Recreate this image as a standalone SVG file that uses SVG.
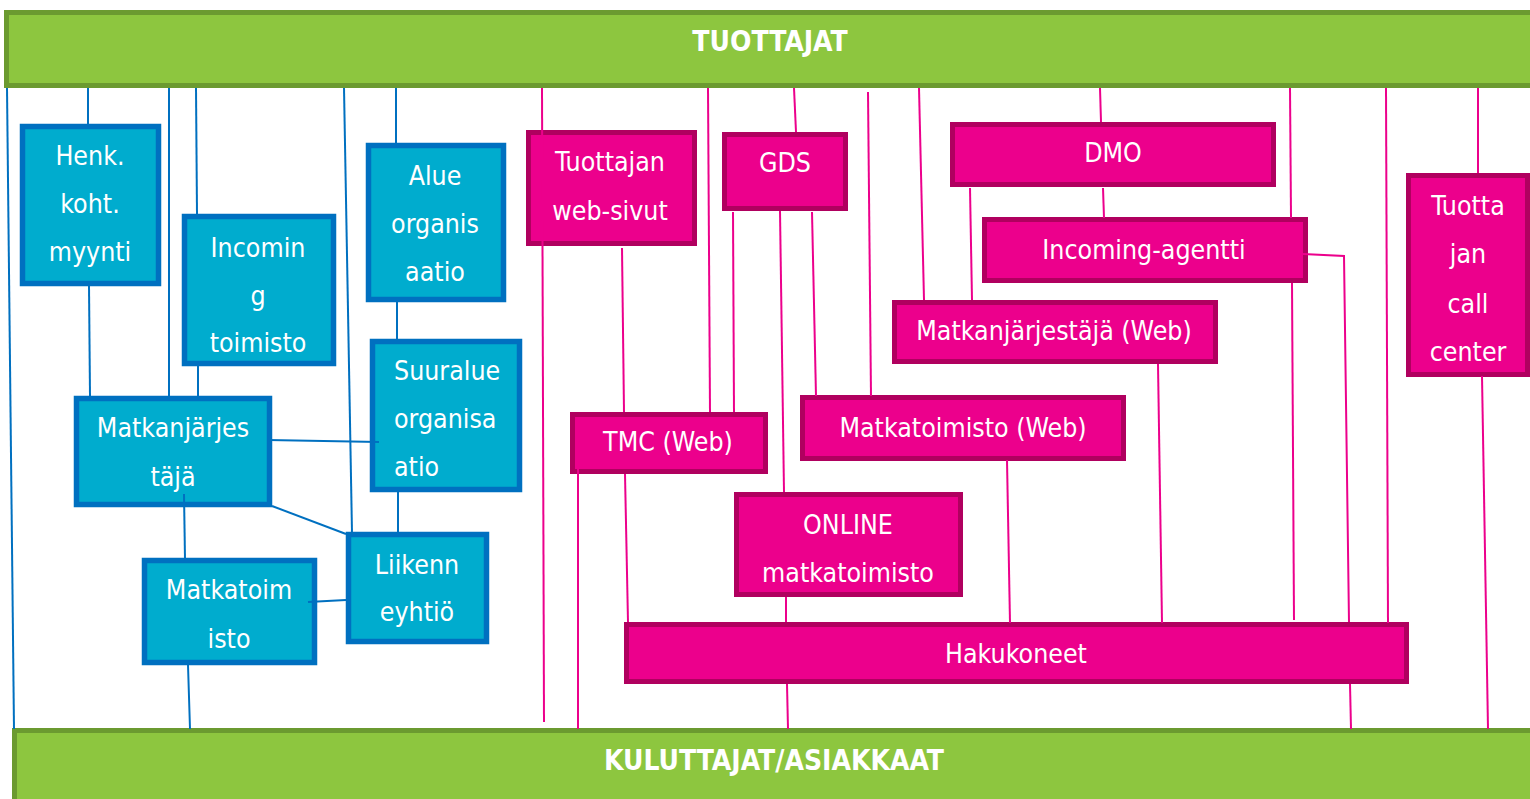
<svg xmlns="http://www.w3.org/2000/svg" width="1530" height="799" viewBox="0 0 1530 799">
<style>
.bar{fill:#8dc63f;stroke:#6b9a30;stroke-width:5}
.bl{fill:#00acce;stroke:#0070c0;stroke-width:5.5}
.mg{fill:#ec008c;stroke:#b0005f;stroke-width:5}
.t{font-family:"DejaVu Sans Condensed","DejaVu Sans",sans-serif;font-stretch:condensed;font-size:26.5px;fill:#fff;text-anchor:middle}
.b{font-family:"DejaVu Sans Condensed","DejaVu Sans",sans-serif;font-stretch:condensed;font-weight:bold;font-size:28px;fill:#fff;text-anchor:middle}
.cb line,.cb polyline{stroke:#0070c0;stroke-width:2;fill:none}
.cm line,.cm polyline{stroke:#ec008c;stroke-width:2;fill:none}
</style>
<rect width="1530" height="799" fill="#fff"/>
<g id="tuottajat"><rect class="bar" x="6.5" y="12.5" width="1530" height="73"/><text class="b" x="770" y="51">TUOTTAJAT</text></g>
<g id="kuluttajat"><rect class="bar" x="14.5" y="730.5" width="1530" height="80"/><text class="b" x="774" y="770">KULUTTAJAT/ASIAKKAAT</text></g>

<g id="henk"><rect class="bl" x="22.5" y="126.5" width="136" height="157"/><text class="t" x="90" y="165">Henk.</text><text class="t" x="90" y="213">koht.</text><text class="t" x="90" y="261">myynti</text></g>
<g id="incoming-toimisto"><rect class="bl" x="184.5" y="216.5" width="149" height="147"/><text class="t" x="258" y="257">Incomin</text><text class="t" x="258" y="305">g</text><text class="t" x="258" y="352">toimisto</text></g>
<g id="alue"><rect class="bl" x="368.5" y="145.5" width="135" height="154"/><text class="t" x="435" y="185">Alue</text><text class="t" x="435" y="233">organis</text><text class="t" x="435" y="281">aatio</text></g>
<g id="suuralue"><rect class="bl" x="372.5" y="341.5" width="147" height="148"/><text class="t" x="394" y="380" style="text-anchor:start">Suuralue</text><text class="t" x="394" y="428" style="text-anchor:start">organisa</text><text class="t" x="394" y="476" style="text-anchor:start">atio</text></g>
<g id="matkanjarjestaja"><rect class="bl" x="76.5" y="398.5" width="193" height="106"/><text class="t" x="173" y="437">Matkanjärjes</text><text class="t" x="173" y="486">täjä</text></g>
<g id="matkatoimisto"><rect class="bl" x="144.5" y="560.5" width="170" height="102"/><text class="t" x="229" y="599">Matkatoim</text><text class="t" x="229" y="648">isto</text></g>
<g id="liikenne"><rect class="bl" x="348.5" y="534.5" width="138" height="107"/><text class="t" x="417" y="574">Liikenn</text><text class="t" x="417" y="621">eyhtiö</text></g>

<g id="tuottajan-web"><rect class="mg" x="528.5" y="132.5" width="166" height="111"/><text class="t" x="610" y="171">Tuottajan</text><text class="t" x="610" y="220">web-sivut</text></g>
<g id="gds"><rect class="mg" x="724.5" y="134.5" width="121" height="74"/><text class="t" x="785" y="172">GDS</text></g>
<g id="tmc"><rect class="mg" x="572.5" y="414.5" width="193" height="57"/><text class="t" x="668" y="451">TMC (Web)</text></g>
<g id="matkatoimisto-web"><rect class="mg" x="802.5" y="397.5" width="321" height="61"/><text class="t" x="963" y="437">Matkatoimisto (Web)</text></g>
<g id="online"><rect class="mg" x="736.5" y="494.5" width="224" height="100"/><text class="t" x="848" y="534">ONLINE</text><text class="t" x="848" y="582">matkatoimisto</text></g>
<g id="hakukoneet"><rect class="mg" x="626.5" y="624.5" width="780" height="57"/><text class="t" x="1016" y="663">Hakukoneet</text></g>
<g id="dmo"><rect class="mg" x="952.5" y="124.5" width="321" height="60"/><text class="t" x="1113" y="162">DMO</text></g>
<g id="incoming-agentti"><rect class="mg" x="984.5" y="219.5" width="321" height="61"/><text class="t" x="1144" y="259">Incoming-agentti</text></g>
<g id="matkanjarjestaja-web"><rect class="mg" x="894.5" y="302.5" width="321" height="59"/><text class="t" x="1054" y="340">Matkanjärjestäjä (Web)</text></g>
<g id="call-center"><rect class="mg" x="1408.5" y="175.5" width="119" height="199"/><text class="t" x="1468" y="215">Tuotta</text><text class="t" x="1468" y="263">jan</text><text class="t" x="1468" y="313">call</text><text class="t" x="1468" y="361">center</text></g>

<g id="connectors">
<g class="cb">
<line x1="7" y1="88" x2="14" y2="729"/>
<line x1="88" y1="88" x2="88" y2="124"/>
<line x1="169" y1="88" x2="169" y2="396"/>
<line x1="196" y1="88" x2="197" y2="214"/>
<line x1="344" y1="88" x2="352" y2="533"/>
<line x1="396" y1="88" x2="396" y2="143"/>
<line x1="89" y1="286" x2="90" y2="396"/>
<line x1="198" y1="366" x2="198" y2="396"/>
<line x1="397" y1="302" x2="397" y2="339"/>
<line x1="268" y1="440" x2="379" y2="442"/>
<line x1="272" y1="506" x2="346" y2="534"/>
<line x1="184" y1="494" x2="185" y2="559"/>
<line x1="398" y1="492" x2="398" y2="533"/>
<line x1="308" y1="602" x2="346" y2="600"/>
<line x1="188" y1="665" x2="190" y2="729"/>
</g>
<g class="cm">
<line x1="542" y1="88" x2="544" y2="722"/>
<line x1="622" y1="248" x2="624" y2="412"/>
<line x1="708" y1="88" x2="710" y2="412"/>
<line x1="733" y1="212" x2="734" y2="412"/>
<line x1="794" y1="88" x2="796" y2="132"/>
<line x1="780" y1="211" x2="784" y2="492"/>
<line x1="812" y1="212" x2="816" y2="396"/>
<line x1="868" y1="92" x2="871" y2="396"/>
<line x1="919" y1="88" x2="924" y2="300"/>
<line x1="970" y1="188" x2="972" y2="300"/>
<line x1="1100" y1="88" x2="1101" y2="122"/>
<line x1="1103" y1="188" x2="1104" y2="218"/>
<line x1="1290" y1="88" x2="1291" y2="218"/>
<line x1="1292" y1="283" x2="1294" y2="620"/>
<polyline points="1303,254 1344,256 1349,622"/>
<line x1="1350" y1="684" x2="1351" y2="729"/>
<line x1="1386" y1="88" x2="1388" y2="623"/>
<line x1="1478" y1="88" x2="1478" y2="173"/>
<line x1="1482" y1="376" x2="1488" y2="729"/>
<line x1="1158" y1="364" x2="1162" y2="623"/>
<line x1="1007" y1="460" x2="1010" y2="623"/>
<line x1="625" y1="474" x2="628" y2="622"/>
<line x1="578" y1="469" x2="578" y2="729"/>
<line x1="786" y1="597" x2="786" y2="622"/>
<line x1="787" y1="684" x2="788" y2="729"/>
</g>
</g>
</svg>
